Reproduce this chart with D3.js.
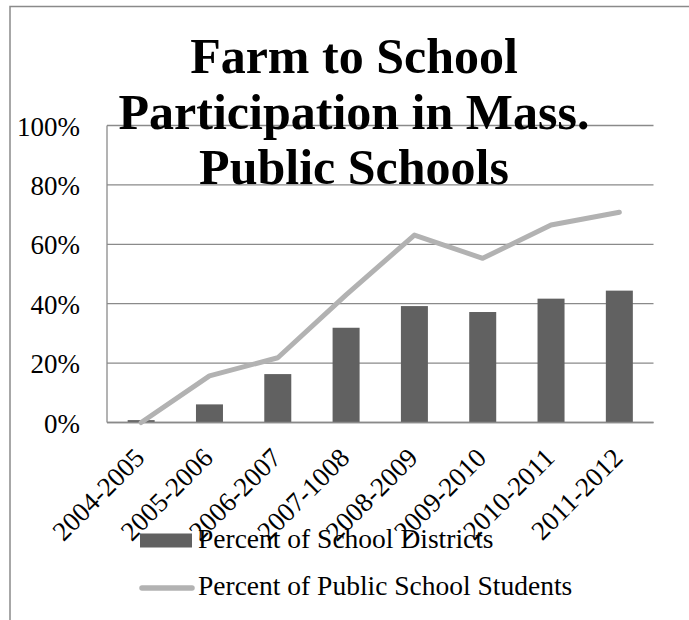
<!DOCTYPE html>
<html>
<head>
<meta charset="utf-8">
<script src="https://cdn.jsdelivr.net/npm/d3@7/dist/d3.min.js"></script>
<style>
  html, body { margin: 0; padding: 0; background: #fff; }
  svg { display: block; }
</style>
</head>
<body>
<svg id="chart" width="689" height="620"></svg>
<script>
const categories = ["2004-2005","2005-2006","2006-2007","2007-1008","2008-2009","2009-2010","2010-2011","2011-2012"];
const districts = [0.8, 6.1, 16.3, 31.9, 39.2, 37.2, 41.7, 44.4];
const students  = [0, 15.7, 21.8, 43.0, 63.1, 55.3, 66.5, 70.8];
const yTicks = [0, 20, 40, 60, 80, 100];
const titleLines = ["Farm to School", "Participation in Mass.", "Public Schools"];
const seriesNames = ["Percent of School Districts", "Percent of Public School Students"];

const svg = d3.select("#chart");
const serif = "'Liberation Serif', 'Times New Roman', serif";
const plot = { left: 107, right: 653.5, top: 125.5, bottom: 422.5 };

// outer frame (left + top edges)
svg.append("path")
  .attr("d", "M10,620 L10,6.5 L689,6.5")
  .attr("fill", "none").attr("stroke", "#8a8a8a").attr("stroke-width", 1.5);

const x = d3.scaleBand().domain(categories).range([plot.left, plot.right]).padding(0);
const y = d3.scaleLinear().domain([0, 100]).range([plot.bottom, plot.top]);

// gridlines
svg.append("g").selectAll("line").data(yTicks).join("line")
  .attr("x1", plot.left).attr("x2", plot.right)
  .attr("y1", d => y(d)).attr("y2", d => y(d))
  .attr("stroke", "#8a8a8a").attr("stroke-width", 1.3);

// y axis line
svg.append("line")
  .attr("x1", plot.left).attr("x2", plot.left)
  .attr("y1", y(100)).attr("y2", y(0))
  .attr("stroke", "#8a8a8a").attr("stroke-width", 1.3);

// y labels
const yAxis = d3.axisLeft(y).tickValues(yTicks).tickFormat(d => d + "%").tickSize(0).tickPadding(0);
const yg = svg.append("g").attr("transform", "translate(80,0)").call(yAxis);
yg.select(".domain").remove();
yg.selectAll("text")
  .attr("font-family", serif).attr("font-size", 27).attr("fill", "#000")
  .attr("dy", null).attr("y", 9.5);

// bars
const barW = 27;
svg.append("g").selectAll("rect").data(categories).join("rect")
  .attr("x", d => x(d) + x.bandwidth() / 2 - barW / 2)
  .attr("width", barW)
  .attr("y", (d, i) => y(districts[i]))
  .attr("height", (d, i) => y(0) - y(districts[i]))
  .attr("fill", "#616161");

// x axis baseline redraw on top of bars
svg.append("line")
  .attr("x1", plot.left).attr("x2", plot.right)
  .attr("y1", y(0)).attr("y2", y(0))
  .attr("stroke", "#8a8a8a").attr("stroke-width", 1.3);

// line
const line = d3.line()
  .x((d, i) => x(categories[i]) + x.bandwidth() / 2)
  .y(d => y(d));
svg.append("path").datum(students)
  .attr("d", line)
  .attr("fill", "none").attr("stroke", "#b2b2b2")
  .attr("stroke-width", 5).attr("stroke-linejoin", "round").attr("stroke-linecap", "round");

// x tick labels
const xAxis = d3.axisBottom(x).tickSize(0).tickPadding(0);
const xg = svg.append("g").attr("transform", `translate(0,${plot.bottom})`).call(xAxis);
xg.select(".domain").remove();
xg.selectAll(".tick text")
  .attr("font-family", serif).attr("font-size", 27).attr("fill", "#000")
  .attr("text-anchor", "end")
  .attr("dy", null).attr("y", 0)
  .attr("transform", "translate(5,37) rotate(-45)");

// legend
const lg = svg.append("g");
lg.append("rect").attr("x", 140).attr("y", 533.5).attr("width", 52).attr("height", 14).attr("fill", "#616161");
lg.append("line").attr("x1", 142).attr("x2", 192).attr("y1", 588).attr("y2", 588)
  .attr("stroke", "#b2b2b2").attr("stroke-width", 5.5).attr("stroke-linecap", "round");
lg.selectAll("text").data(seriesNames).join("text")
  .attr("x", 198).attr("y", (d, i) => 548 + i * 47)
  .attr("font-family", serif).attr("font-size", 27.5).attr("fill", "#000")
  .text(d => d);

// title
svg.append("g").selectAll("text").data(titleLines).join("text")
  .attr("x", 354).attr("y", (d, i) => 73 + i * 55.5)
  .attr("text-anchor", "middle")
  .attr("font-family", serif).attr("font-weight", "bold").attr("font-size", 50)
  .attr("fill", "#000")
  .text(d => d);
</script>
</body>
</html>
